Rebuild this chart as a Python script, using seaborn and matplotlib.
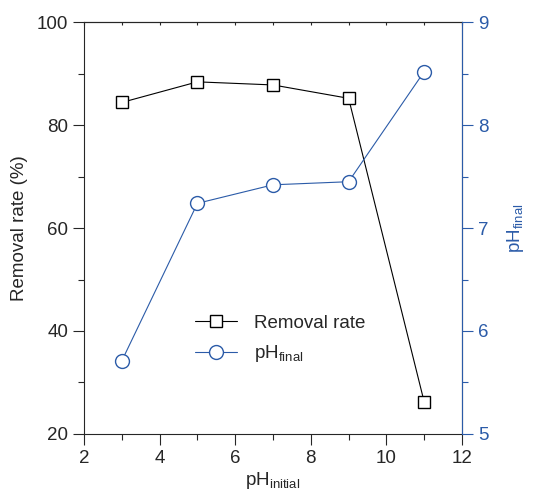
import matplotlib
matplotlib.use("Agg")
import matplotlib.pyplot as plt
import seaborn as sns
from matplotlib.ticker import MultipleLocator

# data
ph_initial = [3, 5, 7, 9, 11]
removal_rate = [84.4, 88.4, 87.8, 85.2, 26.2]
ph_final = [5.71, 7.24, 7.42, 7.45, 8.52]

blue = "#2b5ba8"

sns.set_style("ticks")
plt.rcParams['font.family'] = ['Liberation Sans', 'DejaVu Sans']
plt.rcParams['mathtext.fontset'] = 'custom'
plt.rcParams['mathtext.rm'] = 'Liberation Sans'
plt.rcParams['mathtext.it'] = 'Liberation Sans'
plt.rcParams['font.size'] = 13.5

fig = plt.figure(figsize=(5.51, 4.92), dpi=100)
ax = fig.add_axes([0.1525, 0.118, 0.686, 0.837])
ax2 = ax.twinx()

# removal rate on the left axis
sns.lineplot(x=ph_initial, y=removal_rate, ax=ax, color="black", lw=0.8,
             marker="s", markersize=8.5, markerfacecolor="white",
             markeredgecolor="black", markeredgewidth=1.0, label="Removal rate",
             legend=False)
# final pH on the right axis
sns.lineplot(x=ph_initial, y=ph_final, ax=ax2, color=blue, lw=0.8,
             marker="o", markersize=10, markerfacecolor="white",
             markeredgecolor=blue, markeredgewidth=1.0, label=r"pH$_{\mathrm{final}}$",
             legend=False)

ax.set_xlim(2, 12)
ax.set_ylim(20, 100)
ax2.set_ylim(5, 9)

ax.xaxis.set_major_locator(MultipleLocator(2))
ax.xaxis.set_minor_locator(MultipleLocator(1))
ax.yaxis.set_major_locator(MultipleLocator(20))
ax.yaxis.set_minor_locator(MultipleLocator(10))
ax2.yaxis.set_major_locator(MultipleLocator(1))
ax2.yaxis.set_minor_locator(MultipleLocator(0.5))

ax.tick_params(which='major', direction='out', length=8, width=0.8, labelsize=13.5)
ax.tick_params(which='minor', direction='out', length=4, width=0.8)
ax2.tick_params(which='major', direction='out', length=8, width=0.8,
                colors=blue, labelsize=13.5)
ax2.tick_params(which='minor', direction='out', length=4, width=0.8, colors=blue)

# small inward ticks on the top edge
top = ax.secondary_xaxis('top')
top.xaxis.set_major_locator(MultipleLocator(1))
top.tick_params(direction='in', length=2, width=0.8, labeltop=False)
top.spines['top'].set_linewidth(0.8)

for sp in ['left', 'bottom', 'top']:
    ax.spines[sp].set_linewidth(0.8)
ax2.spines['right'].set_color(blue)
ax2.spines['right'].set_linewidth(0.8)
ax2.spines['top'].set_visible(False)
ax2.spines['left'].set_visible(False)
ax2.spines['bottom'].set_visible(False)

ax.set_xlabel(r"pH$_{\mathrm{initial}}$", fontsize=13.5, labelpad=2)
ax.set_ylabel("Removal rate (%)", fontsize=13.5, labelpad=6)
ax2.set_ylabel(r"pH$_{\mathrm{final}}$", fontsize=13.5, color=blue, labelpad=12)

h1, l1 = ax.get_legend_handles_labels()
h2, l2 = ax2.get_legend_handles_labels()
leg = ax2.legend(h1 + h2, l1 + l2, loc='upper left', bbox_to_anchor=(0.25, 0.33),
                 frameon=False, fontsize=13.5, handlelength=2.2, handletextpad=0.9,
                 labelspacing=0.6)

fig.savefig("out.png", dpi=100)
